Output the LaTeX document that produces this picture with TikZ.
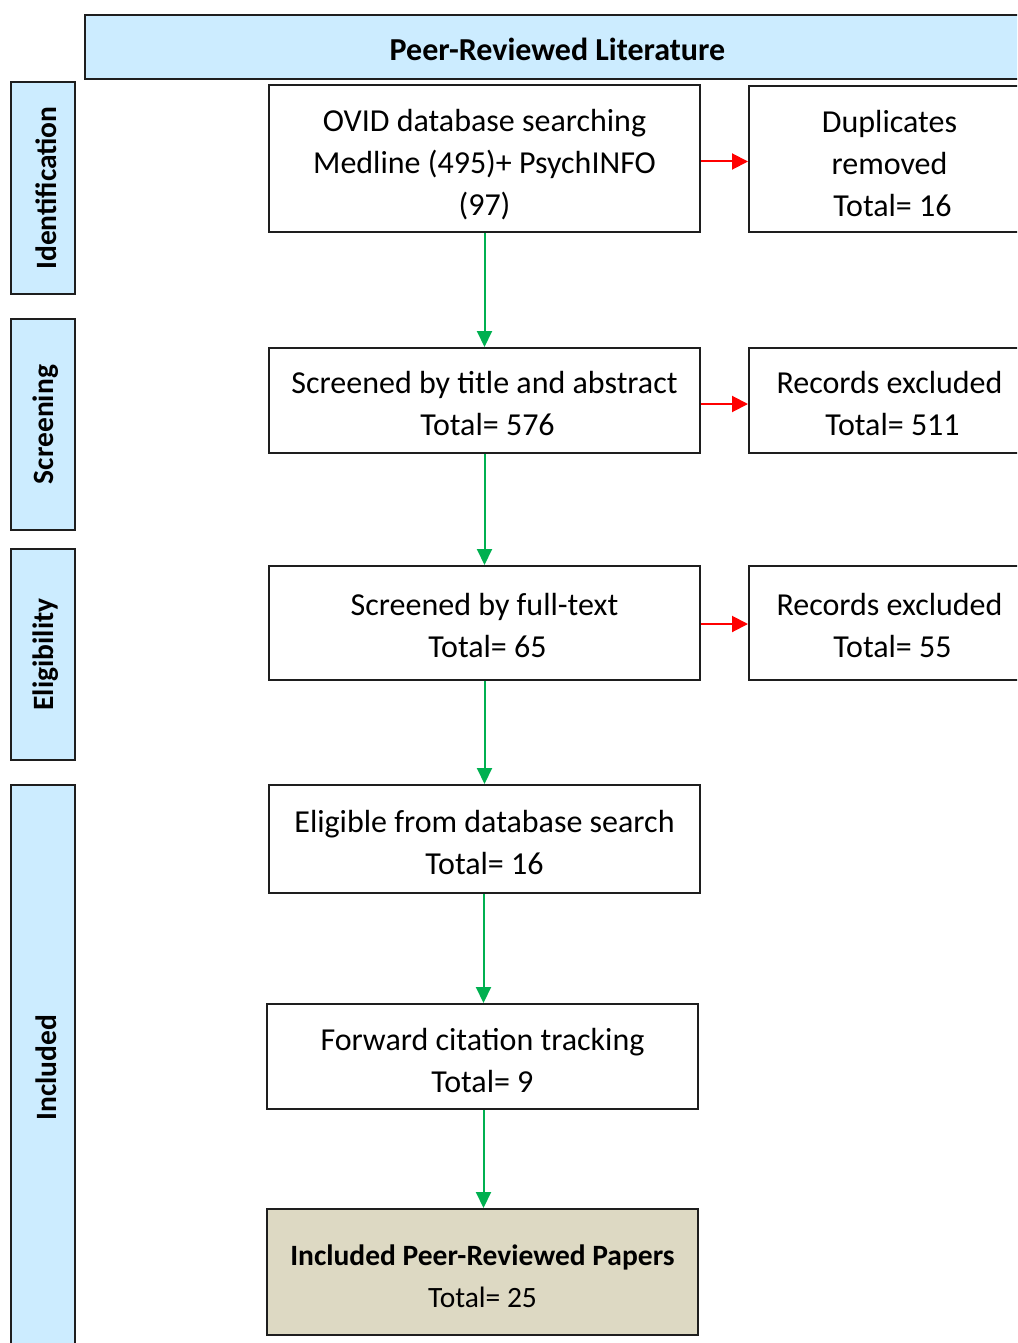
\documentclass[tikz,border=0pt]{standalone}
\usepackage{fontspec}
\setmainfont{Carlito}
\usetikzlibrary{arrows.meta}
\definecolor{bannerblue}{RGB}{204,236,255}
\definecolor{tanfill}{RGB}{221,217,195}
\definecolor{arrgreen}{RGB}{0,176,80}
\definecolor{arrred}{RGB}{255,0,0}
\definecolor{edge}{RGB}{30,30,30}
\tikzset{
  flowbox/.style={draw=edge, line width=2pt, inner sep=0pt},
  boxtext/.style={inner sep=0pt, align=center, font=\fontsize{32}{42}\selectfont},
  sidebar/.style={draw=edge, line width=2pt, fill=bannerblue, inner sep=0pt,
    rotate=90, minimum height=64pt},
  sidetext/.style={rotate=90, inner sep=0pt, font=\bfseries\fontsize{29.5}{32}\selectfont},
  greenarrow/.style={draw=arrgreen, line width=2pt, -{Triangle[length=16pt,width=15pt]}},
  redarrow/.style={draw=arrred, line width=2pt, -{Triangle[length=16pt,width=16pt]}},
}
\begin{document}
\begin{tikzpicture}[x=1pt,y=-1pt]
\useasboundingbox (0,0) rectangle (1017,1343);
\clip (0,0) rectangle (1017,1343);
% banner
\node[flowbox, fill=bannerblue, minimum width=945pt, minimum height=64pt] (banner) at (557.5,47) {};
\node[boxtext, font=\bfseries\fontsize{32}{34}\selectfont] (bannert) at ([yshift=-2pt]banner.center) {Peer-Reviewed Literature};
% side bars
\node[sidebar, minimum width=212pt] (ident) at (43,188) {};
\node[sidetext] (identt) at ([xshift=3pt]ident.center) {Identification};
\node[sidebar, minimum width=211pt] (screen) at (43,424.5) {};
\node[sidetext] (screent) at ([xshift=3pt]screen.center) {Screening};
\node[sidebar, minimum width=211pt] (elig) at (43,654.5) {};
\node[sidetext] (eligt) at ([xshift=3pt]elig.center) {Eligibility};
\node[sidebar, minimum width=565pt] (incl) at (43,1067.5) {};
\node[sidetext] (inclt) at ([xshift=3pt]incl.center) {Included};
% main boxes
\node[flowbox, minimum width=431pt, minimum height=147pt] (b1) at (484.5,158.5) {};
\node[boxtext] (b1t) at ([yshift=-6pt]b1.center) {OVID database searching\\Medline (495)+ PsychINFO\\(97)};
\node[flowbox, minimum width=431pt, minimum height=105pt] (b2) at (484.5,400.5) {};
\node[boxtext] (b2t) at ([yshift=-3.5pt]b2.center) {Screened by title and abstract\\\hspace*{6pt}Total= 576};
\node[flowbox, minimum width=431pt, minimum height=114pt] (b3) at (484.5,623) {};
\node[boxtext] (b3t) at ([yshift=-2.5pt]b3.center) {Screened by full-text\\\hspace*{6pt}Total= 65};
\node[flowbox, minimum width=431pt, minimum height=108pt] (b4) at (484.5,839) {};
\node[boxtext] (b4t) at ([yshift=-3pt]b4.center) {Eligible from database search\\Total= 16};
\node[flowbox, minimum width=431pt, minimum height=105pt] (b5) at (482.5,1056.5) {};
\node[boxtext] (b5t) at ([yshift=-3.5pt]b5.center) {Forward citation tracking\\Total= 9};
\node[flowbox, fill=tanfill, minimum width=431pt, minimum height=126pt] (b6) at (482.5,1272) {};
\node[boxtext, font=\fontsize{29.5}{42}\selectfont] (b6t) at ([yshift=-4pt]b6.center)
  {\textbf{Included Peer-Reviewed Papers}\\Total= 25};
% side boxes
\node[flowbox, minimum width=281pt, minimum height=146pt] (dup) at (889.5,159) {};
\node[boxtext] (dupt) at ([yshift=-4.5pt]dup.center) {Duplicates\\removed\\\hspace*{6pt}Total= 16};
\node[flowbox, minimum width=281pt, minimum height=105pt] (ex1) at (889.5,400.5) {};
\node[boxtext] (ex1t) at ([yshift=-3.5pt]ex1.center) {Records excluded\\\hspace*{6pt}Total= 511};
\node[flowbox, minimum width=281pt, minimum height=114pt] (ex2) at (889.5,623) {};
\node[boxtext] (ex2t) at ([yshift=-2.5pt]ex2.center) {Records excluded\\\hspace*{6pt}Total= 55};
% arrows
\draw[greenarrow] (b1.south) -- (b2.north);
\draw[greenarrow] (b2.south) -- (b3.north);
\draw[greenarrow] (b3.south) -- (b4.north);
\draw[greenarrow] ([xshift=-1pt]b4.south) -- ([xshift=-1pt]b4.south |- b5.north);
\draw[greenarrow] ([xshift=1pt]b5.south) -- ([xshift=1pt]b6.north);
\draw[redarrow] ([yshift=-3pt]b1.east) -- ([yshift=-3pt]b1.east -| dup.west);
\draw[redarrow] ([yshift=-3.5pt]b2.east) -- ([yshift=-3.5pt]ex1.west);
\draw[redarrow] ([yshift=-1pt]b3.east) -- ([yshift=-1pt]ex2.west);
\end{tikzpicture}
\end{document}
